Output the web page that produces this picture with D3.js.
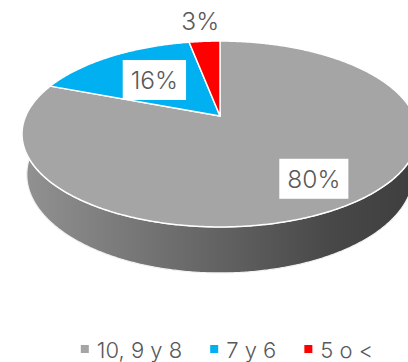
<!DOCTYPE html>
<html>
<head>
<meta charset="utf-8">
<script src="https://cdn.jsdelivr.net/npm/d3@7"></script>
<style>
  html, body { margin: 0; padding: 0; background: #fff; }
  svg { display: block; }
  text { font-family: Inter, "Open Sans", sans-serif; font-weight: 300; fill: #595959; }
</style>
</head>
<body>
<svg id="chart" width="408" height="362"></svg>
<script>
// Grade groups and their share of students
const categories = ["10, 9 y 8", "7 y 6", "5 o <"];
const values = [80, 16, 3];
const valueLabels = ["80%", "16%", "3%"];
const colors = ["#a5a5a5", "#00b0f0", "#ff0000"];

const W = 408, H = 362;
const svg = d3.select("#chart");

// --- 3D perspective camera for a tilted disc of radius 1 ---
const cx = 220, cy = 116;          // screen position of the disc centre (top face)
const tilt = Math.asin(0.4606);    // elevation of the camera
const sinA = Math.sin(tilt), cosA = Math.cos(tilt);
const dist = 4.587;                // camera distance (in radii)
const focal = 891;                 // focal length in pixels
const depth = 0.237;               // thickness of the disc (in radii)

// angle: clockwise from the back (12 o'clock), r: radius fraction, yw: 0 top / -depth bottom
function proj(angle, r, yw) {
  const X = r * Math.sin(angle), Z = r * Math.cos(angle);
  const d = dist - yw * sinA + Z * cosA;
  const up = yw * cosA + Z * sinA;
  return [cx + focal * X / d, cy - focal * up / d];
}

function arcPoints(a0, a1, r, yw, step) {
  const n = Math.max(2, Math.ceil(Math.abs(a1 - a0) / step));
  return d3.range(n + 1).map(i => proj(a0 + (a1 - a0) * i / n, r, yw));
}

const pie = d3.pie().sort(null).value(d => d)(values);
const line = d3.line();

// side wall shading
const defs = svg.append("defs");
const grad = defs.append("linearGradient")
  .attr("id", "side").attr("gradientUnits", "userSpaceOnUse")
  .attr("x1", 22).attr("x2", 418).attr("y1", 0).attr("y2", 0);
[[0, "#929292"], [0.45, "#676767"], [0.78, "#484848"], [1, "#3e3e3e"]]
  .forEach(([o, c]) => grad.append("stop").attr("offset", o).attr("stop-color", c));

const deg = Math.PI / 180;
const step = 0.5 * deg;

// side wall: visible front part of the rim
const sideTop = arcPoints(60 * deg, 300 * deg, 1, 0, step);
const sideBot = arcPoints(300 * deg, 60 * deg, 1, -depth, step);
svg.append("path")
  .attr("d", line(sideTop.concat(sideBot)) + "Z")
  .attr("fill", "url(#side)")
  .attr("stroke", "#f2f2f2").attr("stroke-width", 1.2)
  .attr("stroke-linejoin", "round");

// top face slices
svg.append("g").selectAll("path")
  .data(pie).join("path")
  .attr("d", d => line([proj(0, 0, 0)].concat(arcPoints(d.startAngle, d.endAngle, 1, 0, step))) + "Z")
  .attr("fill", (d, i) => colors[i])
  .attr("stroke", "#fff").attr("stroke-width", 1.5)
  .attr("stroke-linejoin", "round");

// data labels
const labelRadius = [0.75, 0.57, 1.35];
const labelBox = [true, true, false];
const lg = svg.append("g");
pie.forEach((d, i) => {
  const mid = (d.startAngle + d.endAngle) / 2;
  const [lx, ly] = proj(mid, labelRadius[i], 0);
  const g = lg.append("g");
  const t = g.append("text")
    .attr("x", lx).attr("y", ly + 9)
    .attr("text-anchor", "middle")
    .attr("font-size", 24.5)
    .text(valueLabels[i]);
  if (labelBox[i]) {
    const bb = t.node().getBBox();
    g.insert("rect", "text")
      .attr("x", bb.x - 8).attr("y", ly - 20)
      .attr("width", bb.width + 16).attr("height", 40)
      .attr("fill", "#fff");
  }
});

// legend
const leg = svg.append("g");
const items = leg.selectAll("g").data(categories).join("g");
items.append("rect").attr("width", 8).attr("height", 8).attr("y", 345)
  .attr("fill", (d, i) => colors[i]);
items.append("text").attr("y", 358).attr("x", 16).attr("font-size", 22).text(d => d);
let x = 0;
const offs = [];
items.each(function () {
  offs.push(x);
  x += 16 + this.querySelector("text").getComputedTextLength() + 28;
});
const total = x - 28;
const start = 227 - total / 2;
items.attr("transform", (d, i) => `translate(${start + offs[i]},0)`);
</script>
</body>
</html>
